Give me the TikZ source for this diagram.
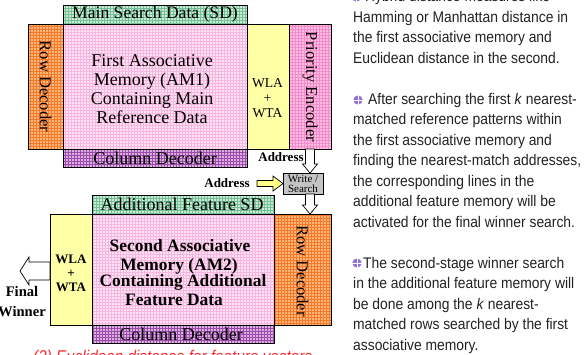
\documentclass[tikz,border=0pt]{standalone}
\usepackage{fontspec}
\setmainfont{Liberation Serif}
\newfontfamily\notefont[FakeStretch=0.9]{Liberation Sans}
\usetikzlibrary{calc}

\definecolor{orfill}{HTML}{FFB678}
\definecolor{ormesh}{HTML}{F27A2A}
\definecolor{pkfill}{HTML}{FFE2F4}
\definecolor{pkmesh}{HTML}{F7B6E0}
\definecolor{pefill}{HTML}{FFBCE2}
\definecolor{pemesh}{HTML}{F28CCB}
\definecolor{grfill}{HTML}{CBEBD6}
\definecolor{grmesh}{HTML}{74C096}
\definecolor{pufill}{HTML}{DDB0E0}
\definecolor{pumesh}{HTML}{9A4CAA}
\definecolor{yefill}{HTML}{FFFFA6}
\definecolor{gyfill}{HTML}{C4C4C4}
\definecolor{arrowyel}{HTML}{FFFF88}
\definecolor{bulletcol}{HTML}{9270DA}
\definecolor{capred}{HTML}{FF2A2A}
\definecolor{notegray}{HTML}{222222}

% Hollow block arrows: tail point, tip point, shaft half width, head half width, head length
\newcommand\leftblock[6]{%
  \draw[#1] let \p1=(#2), \p2=(#3) in
    (\x1,\y2+#4) -- (\x2+#6,\y2+#4) -- (\x2+#6,\y2+#5) -- (\x2,\y2)
    -- (\x2+#6,\y2-#5) -- (\x2+#6,\y2-#4) -- (\x1,\y2-#4) -- cycle;}
\newcommand\rightblock[6]{%
  \draw[#1] let \p1=(#2), \p2=(#3) in
    (\x1,\y2+#4) -- (\x2-#6,\y2+#4) -- (\x2-#6,\y2+#5) -- (\x2,\y2)
    -- (\x2-#6,\y2-#5) -- (\x2-#6,\y2-#4) -- (\x1,\y2-#4) -- cycle;}
% downward arrow: x taken from #1, from #2 down to #3
\newcommand\downblock[5]{%
  \draw[hollow] let \p1=(#1), \p2=(#2), \p3=(#3) in
    (\x1-#4,\y2) -- (\x1-#4,\y3+#5) -- (\x1-7.5pt,\y3+#5) -- (\x1,\y3)
    -- (\x1+7.5pt,\y3+#5) -- (\x1+#4,\y3+#5) -- (\x1+#4,\y2) -- cycle;}
% round bullet with a cross
\newcommand\notebullet[2]{%
  \fill[bulletcol] (#1,#2) circle (4.6);
  \draw[white, line width=0.8pt] (#1-4.6,#2) -- (#1+4.6,#2) (#1,#2-4.6) -- (#1,#2+4.6);}
\newcommand\noteline[3]{\node[notetext] (#1) at (353,#2) {#3};}

\tikzset{
  blk/.style={draw=black, line width=0.7pt, inner sep=0pt, outer sep=0pt, anchor=north west},
  meshfill/.style 2 args={fill=#1, path picture={
      \draw[#2, line width=0.45pt] (path picture bounding box.south west)
        grid[step=3pt] (path picture bounding box.north east);}},
  lbl/.style={inner sep=0pt, align=center, text=black},
  serifbig/.style={font=\fontsize{18}{19}\selectfont},
  vert/.style={lbl, rotate=-90, font=\fontsize{16.6}{18}\selectfont},
  wlatext/.style={lbl, font=\fontsize{13.6}{15}\selectfont},
  addr/.style={lbl, font=\bfseries\fontsize{13}{14}\selectfont},
  hollow/.style={draw=black, fill=white, line width=0.7pt, line join=miter},
  notetext/.style={inner sep=0pt, anchor=base west, text=notegray,
                   font=\notefont\fontsize{15.4}{20.5}\selectfont},
}

\begin{document}
\begin{tikzpicture}[x=1pt, y=-1pt]
\useasboundingbox (0,0) rectangle (584,354);
\clip (0,0) rectangle (584,354);
\fill[white] (0,0) rectangle (584,354);

% ---------- first associative memory ----------
\node[blk, meshfill={grfill}{grmesh}, minimum width=184pt, minimum height=19pt] (sd1) at (63,5) {};
\node[blk, meshfill={orfill}{ormesh}, minimum width=35pt, minimum height=125pt] (rd1) at (28,24) {};
\node[blk, meshfill={pkfill}{pkmesh}, minimum width=184pt, minimum height=125pt] (am1) at (63,24) {};
\node[blk, fill=yefill, minimum width=42pt, minimum height=125pt] (wla1) at (247,24) {};
\node[blk, meshfill={pefill}{pemesh}, minimum width=42pt, minimum height=125pt] (pe) at (289,24) {};
\node[blk, meshfill={pufill}{pumesh}, minimum width=184pt, minimum height=18pt] (cd1) at (63,149) {};

\node[lbl, font=\fontsize{17.6}{18}\selectfont] (sd1t) at (sd1.center) {Main Search Data (SD)};
\node[vert] (rd1t) at (45.5,86.5) {Row Decoder};
\node[lbl, serifbig] (am1t) at (152,89.5) {First Associative\\Memory (AM1)\\Containing Main\\Reference Data};
\node[wlatext] (wla1t) at (267.5,98) {WLA\\+\\WTA};
\node[vert] (pet) at (310,87) {Priority Encoder};
\node[lbl, serifbig] (cd1t) at (155,158) {Column Decoder};

% ---------- write / search control ----------
\node[addr] (addr1) at (281,157) {Address};
\node[blk, fill=gyfill, minimum width=40pt, minimum height=21pt] (ws) at (283,173) {};
\node[lbl, font=\fontsize{11}{10}\selectfont] (wst) at (303,183.8) {Write /\\Search};
\node[addr] (addr2) at (227,183.5) {Address};
\coordinate (addrtail) at (257,183.5);

% ---------- second associative memory ----------
\node[blk, meshfill={grfill}{grmesh}, minimum width=182pt, minimum height=19pt] (sd2) at (92,195) {};
\node[blk, fill=yefill, minimum width=42pt, minimum height=111pt] (wla2) at (50,214) {};
\node[blk, meshfill={pkfill}{pkmesh}, minimum width=182pt, minimum height=111pt] (am2) at (92,214) {};
\node[blk, meshfill={orfill}{ormesh}, minimum width=57pt, minimum height=111pt] (rd2) at (274,214) {};
\node[blk, meshfill={pufill}{pumesh}, minimum width=182pt, minimum height=18pt] (cd2) at (92,325) {};

\node[lbl, serifbig] (sd2t) at (182,204.5) {Additional Feature SD};
\node[lbl, font=\bfseries\fontsize{17.4}{18}\selectfont, anchor=base] (am2a) at (180,251) {Second Associative};
\node[lbl, font=\bfseries\fontsize{17.4}{18}\selectfont, anchor=base] (am2b) at (179,270) {Memory (AM2)};
\node[lbl, font=\bfseries\fontsize{17.4}{18}\selectfont, anchor=base] (am2c) at (183,286) {Containing Additional};
\node[lbl, font=\bfseries\fontsize{17.4}{18}\selectfont, anchor=base] (am2d) at (174,305.5) {Feature Data};
\node[lbl, font=\bfseries\fontsize{13}{14}\selectfont] (wla2t) at (71,273) {WLA\\+\\WTA};
\node[vert] (rd2t) at (302.5,271) {Row Decoder};
\node[lbl, serifbig] (cd2t) at (181,334) {Column Decoder};

\coordinate (fwtip) at (20,271);
\node[lbl, font=\bfseries\fontsize{14.6}{20}\selectfont] (fwt) at (22,302) {Final\\Winner};

% ---------- block arrows ----------
\downblock{pe.south}{pe.south}{ws.north}{4.5pt}{9pt}
\downblock{pe.south}{ws.south}{rd2.north}{4.5pt}{9pt}
\rightblock{hollow, fill=arrowyel}{addrtail}{ws.west}{3pt}{7.5pt}{10pt}
\leftblock{hollow}{wla2.west}{fwtip}{9pt}{14pt}{9pt}

% ---------- notes ----------
\notebullet{356.5}{-3}
\node[notetext] (n0) at (365,1.5) {Hybrid distance measures like};
\noteline{n1}{22}{Hamming or Manhattan distance in}
\noteline{n2}{42.5}{the first associative memory and}
\noteline{n3}{63}{Euclidean distance in the second.}
\notebullet{358}{100}
\node[notetext] (n5) at (368,104) {After searching the first \textit{k} nearest-};
\noteline{n6}{124.5}{matched reference patterns within}
\noteline{n7}{145}{the first associative memory and}
\noteline{n8}{165.5}{finding the nearest-match addresses,}
\noteline{n9}{186}{the corresponding lines in the}
\noteline{n10}{206.5}{additional feature memory will be}
\noteline{n11}{227}{activated for the final winner search.}
\notebullet{357}{263}
\node[notetext] (n13) at (363,268) {The second-stage winner search};
\noteline{n14}{288.5}{in the additional feature memory will}
\noteline{n15}{309}{be done among the \textit{k} nearest-}
\noteline{n16}{329.5}{matched rows searched by the first}
\noteline{n17}{350}{associative memory.}

\node[inner sep=0pt, anchor=base west, text=capred,
      font=\notefont\itshape\fontsize{17}{18}\selectfont] (cap) at (33,362)
      {(2) Euclidean distance for feature vectors};
\end{tikzpicture}
\end{document}
